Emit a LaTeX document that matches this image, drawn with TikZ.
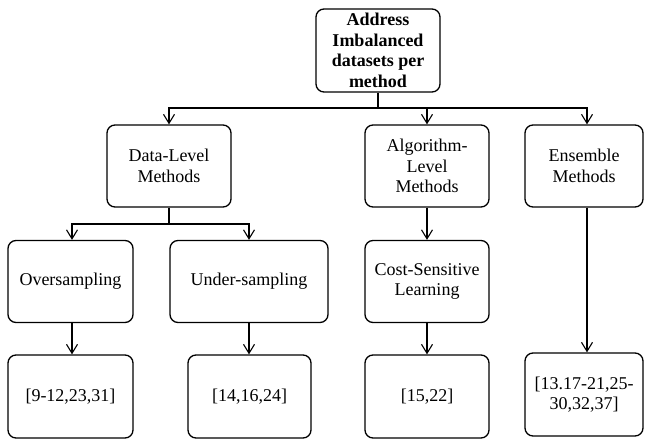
\documentclass[tikz,border=0pt]{standalone}
\usepackage{fontspec}
\setmainfont{Liberation Serif}
\usetikzlibrary{arrows.meta,calc}
\begin{document}
\begin{tikzpicture}[x=1pt,y=-1pt,
  box/.style={draw,line width=1.3pt,rounded corners=8pt,align=center,inner sep=2pt,font=\fontsize{18}{20.5}\selectfont},
  arr/.style={line width=1.3pt,-{Straight Barb[length=9pt,width=11pt,line width=1.1pt]}},
  ln/.style={line width=1.3pt}]
\useasboundingbox (0,0) rectangle (645,439);
\node[box,minimum width=124pt,minimum height=83pt,font=\bfseries\fontsize{18}{20.5}\selectfont] (root) at (378,50.5) {Address\\Imbalanced\\datasets per\\method};
\node[box,minimum width=124pt,minimum height=82pt] (dl) at (169,166) {Data-Level\\Methods};
\node[box,minimum width=124pt,minimum height=82pt] (al) at (427,166) {Algorithm-\\Level\\Methods};
\node[box,minimum width=118pt,minimum height=82pt] (en) at (584,166) {Ensemble\\Methods};
\node[box,minimum width=125pt,minimum height=82pt] (ov) at (70.5,281.5) {Oversampling};
\node[box,minimum width=158pt,minimum height=82pt] (un) at (249,281.5) {Under-sampling};
\node[box,minimum width=124pt,minimum height=82pt] (cs) at (427,281.5) {Cost-Sensitive\\Learning};
\node[box,minimum width=125pt,minimum height=83pt] (r1) at (70.5,396.5) {[9-12,23,31]};
\node[box,minimum width=123pt,minimum height=83pt] (r2) at (249.5,396.5) {[14,16,24]};
\node[box,minimum width=124pt,minimum height=83pt] (r3) at (427,396.5) {[15,22]};
\node[box,minimum width=118pt,minimum height=83pt] (r4) at (584,394.5) {[13.17-21,25-\\30,32,37]};
\coordinate (bus1) at (378,108);
\coordinate (bus2) at (169,224);
\draw[ln] (root.south) -- (bus1);
\draw[arr] (bus1) -| (dl.north);
\draw[arr] (bus1) -| (al.north);
\draw[arr] (bus1) -| ($(en.north)+(3,0)$);
\draw[ln] (dl.south) -- (bus2);
\draw[arr] (bus2) -| ($(ov.north)+(1.5,0)$);
\draw[arr] (bus2) -| (un.north);
\draw[arr] (al.south) -- (cs.north);
\draw[arr] ($(ov.south)+(1.5,0)$) -- ($(r1.north)+(1.5,0)$);
\draw[arr] (un.south) -- ($(r2.north)+(-0.5,0)$);
\draw[arr] (cs.south) -- (r3.north);
\draw[arr] ($(en.south)+(3,0)$) -- ($(r4.north)+(3,0)$);
\end{tikzpicture}
\end{document}
